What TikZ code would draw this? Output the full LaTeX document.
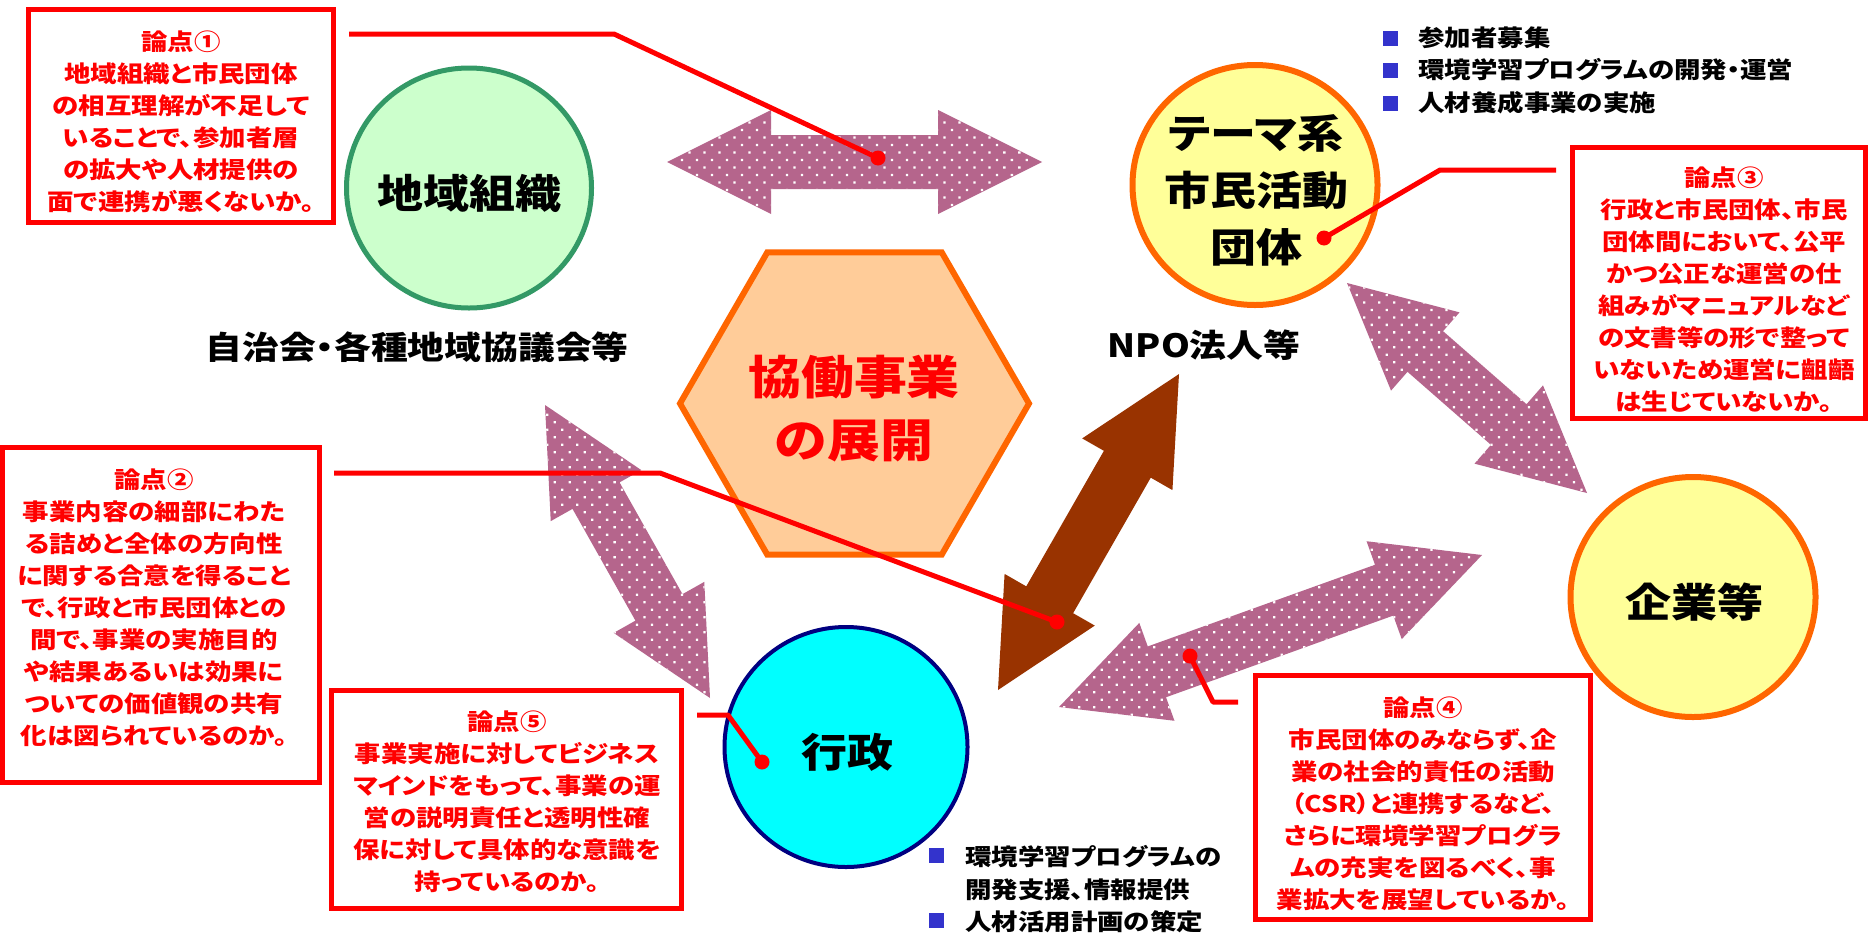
\documentclass[tikz,border=0pt]{standalone}
\usepackage{fontspec}
\setmainfont{Noto Sans CJK JP}[FakeStretch=1.15,RawFeature=+palt]
\usetikzlibrary{calc,shapes.geometric,patterns.meta}
\definecolor{mauve}{HTML}{B5658C}
\definecolor{brownarrow}{HTML}{993300}
\definecolor{ptred}{HTML}{FF0000}
\definecolor{bulletblue}{HTML}{3333CC}
\definecolor{greenfill}{HTML}{CCFFCC}
\definecolor{greenline}{HTML}{339966}
\definecolor{yellowfill}{HTML}{FFFF99}
\definecolor{orangeline}{HTML}{FF6600}
\definecolor{hexfill}{HTML}{FFCC99}
\definecolor{cyanfill}{HTML}{00FFFF}
\definecolor{navyline}{HTML}{000080}
\newcommand{\blockarrow}[3]{%
  \coordinate (ba-h1) at ($(#2)!104pt!(#3)$);
  \coordinate (ba-h2) at ($(#3)!104pt!(#2)$);
  \path[#1] (#2)
    -- ($(ba-h1)!52pt!90:(#3)$) -- ($(ba-h1)!27pt!90:(#3)$)
    -- ($(ba-h2)!27pt!-90:(#2)$) -- ($(ba-h2)!52pt!-90:(#2)$)
    -- (#3)
    -- ($(ba-h2)!52pt!90:(#2)$) -- ($(ba-h2)!27pt!90:(#2)$)
    -- ($(ba-h1)!27pt!-90:(#3)$) -- ($(ba-h1)!52pt!-90:(#3)$)
    -- cycle;
}
\tikzset{
  patarrow/.style={fill=mauve, postaction={pattern={Dots[distance=10.6pt,radius=1.6pt,angle=45]}, pattern color=white}},
  brownar/.style={fill=brownarrow},
  issuebox/.style={draw=ptred, line width=5pt, inner sep=0pt, outer sep=0pt},
  issuetext/.style={text=ptred, font=\fontsize{23}{32}\selectfont\bfseries, align=center, inner sep=0pt},
  leader/.style={draw=ptred, line width=5pt, line join=round},
  leaderdot/.style={circle, fill=ptred, minimum size=15pt, inner sep=0pt},
  bigtext/.style={font=\fontsize{40}{57}\selectfont\bfseries, align=center, inner sep=0pt},
  midtext/.style={font=\fontsize{32}{40}\selectfont\bfseries, inner sep=0pt},
  btext/.style={font=\fontsize{23}{32}\selectfont\bfseries, inner sep=0pt, anchor=west},
  bsq/.style={fill=bulletblue, minimum size=15pt, inner sep=0pt},
  actor/.style={ellipse, inner sep=0pt, minimum width=245pt, minimum height=240pt},
}
\begin{document}
\begin{tikzpicture}[x=1pt,y=-1pt]
\useasboundingbox (0,0) rectangle (1870,932);
\fill[white] (0,0) rectangle (1870,932);

% block arrows
\coordinate (topL) at (667,162);
\coordinate (topR) at (1042,162);
\blockarrow{patarrow}{topL}{topR}
\coordinate (leftU) at (545,405);
\coordinate (leftD) at (710,698);
\blockarrow{patarrow}{leftU}{leftD}
\coordinate (brU) at (1179,374);
\coordinate (brD) at (998,690);
\blockarrow{brownar}{brD}{brU}
\coordinate (urU) at (1347,283);
\coordinate (urD) at (1587,493);
\blockarrow{patarrow}{urU}{urD}
\coordinate (lrL) at (1059,707);
\coordinate (lrR) at (1482,555);
\blockarrow{patarrow}{lrL}{lrR}

% actors
\node[actor, draw=greenline, fill=greenfill, line width=5pt] (chiiki) at (469,188) {};
\node[bigtext] (chiikiT) at (469,193) {地域組織};
\node[actor, draw=orangeline, fill=yellowfill, line width=6pt] (theme) at (1255,185) {};
\node[bigtext] (themeT) at (1256,190) {テーマ系\\市民活動\\団体};
\node[actor, draw=orangeline, fill=yellowfill, line width=6pt] (kigyo) at (1693,597) {};
\node[bigtext] (kigyoT) at (1694,602) {企業等};
\node[actor, draw=navyline, fill=cyanfill, line width=4pt, minimum width=243pt] (gyosei) at (846,747) {};
\node[bigtext] (gyoseiT) at (847,752) {行政};

% hexagon
\node[regular polygon, regular polygon sides=6, minimum size=349pt, inner sep=0pt,
      draw=orangeline, fill=hexfill, line width=6pt] (hex) at (854.5,403.5) {};
\node[text=ptred, font=\fontsize{46}{63}\selectfont\bfseries, align=center, inner sep=0pt] (hexT) at (854,408.5) {協働事業\\の展開};

% captions
\node[midtext] (jichi) at (417,347) {自治会・各種地域協議会等};
\node[midtext] (npo) at (1204,345) {NPO法人等};

% bullet lists
\node[bsq] (bq1) at (1390,38) {};
\node[bsq] (bq2) at (1390,70) {};
\node[bsq] (bq3) at (1390,103) {};
\node[btext] (bt1) at (1418,38) {参加者募集};
\node[btext] (bt2) at (1418,70) {環境学習プログラムの開発・運営};
\node[btext] (bt3) at (1418,103) {人材養成事業の実施};
\node[bsq] (cq1) at (936,855) {};
\node[bsq] (cq2) at (936,920) {};
\node[btext] (ct1) at (965,857) {環境学習プログラムの};
\node[btext] (ct2) at (965,890) {開発支援、情報提供};
\node[btext] (ct3) at (965,922) {人材活用計画の策定};

% issue boxes
\node[issuebox, minimum width=305pt, minimum height=213pt] (box1) at (180.5,115.5) {};
\node[issuetext] (t1) at (181,122) {論点①\\地域組織と市民団体\\の相互理解が不足して\\いることで、参加者層\\の拡大や人材提供の\\面で連携が悪くないか。};
\node[issuebox, minimum width=316.5pt, minimum height=335pt] (box2) at (160.75,614.5) {};
\node[issuetext] (t2) at (154,607.5) {論点②\\事業内容の細部にわた\\る詰めと全体の方向性\\に関する合意を得ること\\で、行政と市民団体との\\間で、事業の実施目的\\や結果あるいは効果に\\ついての価値観の共有\\化は図られているのか。};
\node[issuebox, minimum width=293pt, minimum height=271pt] (box3) at (1718.5,282.5) {};
\node[issuetext] (t3) at (1724,290) {論点③\\行政と市民団体、市民\\団体間において、公平\\かつ公正な運営の仕\\組みがマニュアルなど\\の文書等の形で整って\\いないため運営に齟齬\\は生じていないか。};
\node[issuebox, minimum width=335pt, minimum height=244pt] (box4) at (1422.5,797) {};
\node[issuetext] (t4) at (1423,803.5) {論点④\\市民団体のみならず、企\\業の社会的責任の活動\\（CSR）と連携するなど、\\さらに環境学習プログラ\\ムの充実を図るべく、事\\業拡大を展望しているか。};
\node[issuebox, minimum width=350pt, minimum height=218pt] (box5) at (506,799) {};
\node[issuetext] (t5) at (507,802) {論点⑤\\事業実施に対してビジネス\\マインドをもって、事業の運\\営の説明責任と透明性確\\保に対して具体的な意識を\\持っているのか。};

% leaders
\coordinate (l1s) at (349,34);
\coordinate (l1b) at (614,34);
\node[leaderdot] (d1) at (878,158) {};
\draw[leader] (l1s) -- (l1b) -- (d1.center);
\coordinate (l2s) at (334,473);
\coordinate (l2b) at (660,473);
\node[leaderdot] (d2) at (1057,622) {};
\draw[leader] (l2s) -- (l2b) -- (d2.center);
\coordinate (l3s) at (1556,170);
\coordinate (l3b) at (1440,170);
\node[leaderdot] (d3) at (1324,238) {};
\draw[leader] (l3s) -- (l3b) -- (d3.center);
\coordinate (l4s) at (1238,702);
\coordinate (l4b) at (1213,702);
\node[leaderdot] (d4) at (1190,656) {};
\draw[leader] (l4s) -- (l4b) -- (d4.center);
\coordinate (l5s) at (697,715);
\coordinate (l5b) at (728,715);
\node[leaderdot] (d5) at (762,762) {};
\draw[leader] (l5s) -- (l5b) -- (d5.center);
\end{tikzpicture}
\end{document}
